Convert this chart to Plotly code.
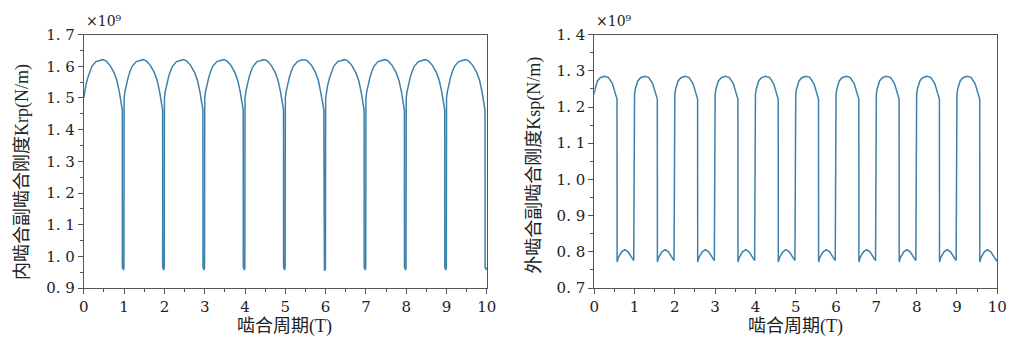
import numpy as np
import plotly.graph_objects as go

# ---- data (one mesh period, repeated for 10 periods) ----
n_periods = 10

# inner mesh stiffness Krp (x1e9 N/m): phase within a period and value
krp_phase = [0.00, 0.02, 0.05, 0.10, 0.15, 0.20, 0.30, 0.40, 0.47, 0.55, 0.65,
             0.75, 0.82, 0.88, 0.92, 0.955, 0.957, 0.97, 0.985, 0.995]
krp_value = [1.500, 1.520, 1.540, 1.565, 1.585, 1.600, 1.615, 1.620, 1.621, 1.617, 1.603,
             1.580, 1.555, 1.520, 1.490, 1.462, 0.965, 0.957, 0.957, 0.965]
krp_end_value = 0.960

# outer mesh stiffness Ksp (x1e9 N/m)
ksp_phase = [0.00, 0.02, 0.08, 0.15, 0.25, 0.35, 0.45, 0.50, 0.565, 0.567,
             0.60, 0.68, 0.76, 0.84, 0.92, 0.98]
ksp_value = [1.235, 1.250, 1.272, 1.281, 1.285, 1.282, 1.265, 1.245, 1.222, 0.772,
             0.785, 0.800, 0.806, 0.800, 0.785, 0.776]
ksp_end_value = 0.778

x_ticks = [0, 1, 2, 3, 4, 5, 6, 7, 8, 9, 10]
y1_ticks = [0.9, 1.0, 1.1, 1.2, 1.3, 1.4, 1.5, 1.6, 1.7]
y2_ticks = [0.7, 0.8, 0.9, 1.0, 1.1, 1.2, 1.3, 1.4]


def tile(phase, value, end_value):
    xs, ys = [], []
    for k in range(n_periods):
        xs.extend([k + p for p in phase])
        ys.extend(value)
    xs.append(n_periods)
    ys.append(end_value)
    return xs, ys


x1, y1 = tile(krp_phase, krp_value, krp_end_value)
x2, y2 = tile(ksp_phase, ksp_value, ksp_end_value)

W, H = 1024, 354
LINE = "#3d82ab"
AX = "#555555"
TICKFONT = dict(family="DejaVu Serif", size=15, color="#222222")
TITLEFONT = dict(family="Liberation Serif, Noto Sans CJK SC", size=18, color="#222222")


def fmt(v):
    s = f"{v:.1f}"
    return s.replace(".", ". ")


fig = go.Figure()
fig.add_trace(go.Scatter(x=x1, y=y1, mode="lines", line=dict(color=LINE, width=1.5),
                         xaxis="x", yaxis="y", showlegend=False))
fig.add_trace(go.Scatter(x=x2, y=y2, mode="lines", line=dict(color=LINE, width=1.5),
                         xaxis="x2", yaxis="y2", showlegend=False))

y_dom = [1 - 294 / H, 1 - 27 / H]
xd1 = [80 / W, 489 / W]
xd2 = [598 / W, 1007 / W]

common_x = dict(range=[0, 10], tickvals=x_ticks, ticktext=[str(t) for t in x_ticks],
                showline=True, linecolor=AX, linewidth=1, mirror=True,
                ticks="outside", ticklen=5, tickcolor=AX, tickwidth=1,
                minor=dict(ticks="outside", ticklen=3, dtick=0.5, tickcolor=AX),
                showgrid=False, zeroline=False, tickfont=TICKFONT)
common_y = dict(showline=True, linecolor=AX, linewidth=1, mirror=True,
                ticks="outside", ticklen=5, tickcolor=AX, tickwidth=1,
                minor=dict(ticks="outside", ticklen=3, dtick=0.05, tickcolor=AX),
                showgrid=False, zeroline=False, tickfont=TICKFONT)

fig.update_layout(
    width=W, height=H,
    margin=dict(l=0, r=0, t=0, b=0),
    paper_bgcolor="white", plot_bgcolor="white",
    xaxis=dict(domain=xd1, anchor="y", **common_x),
    yaxis=dict(domain=y_dom, anchor="x", range=[0.9, 1.7], tickvals=y1_ticks,
               ticktext=[fmt(v) for v in y1_ticks], **common_y),
    xaxis2=dict(domain=xd2, anchor="y2", **common_x),
    yaxis2=dict(domain=y_dom, anchor="x2", range=[0.7, 1.4], tickvals=y2_ticks,
                ticktext=[fmt(v) for v in y2_ticks], **common_y),
)

ann = [
    dict(text="×10⁹", x=80 / W, y=1 - 13 / H, xanchor="left", yanchor="middle",
         font=dict(family="DejaVu Serif", size=14, color="#222222")),
    dict(text="×10⁹", x=598 / W, y=1 - 13 / H, xanchor="left", yanchor="middle",
         font=dict(family="DejaVu Serif", size=14, color="#222222")),
    dict(text="啮合周期(T)", x=284 / W, y=1 - 334 / H, xanchor="center", yanchor="middle",
         font=TITLEFONT),
    dict(text="啮合周期(T)", x=802 / W, y=1 - 334 / H, xanchor="center", yanchor="middle",
         font=TITLEFONT),
    dict(text="内啮合副啮合刚度Krp(N/m)", x=18 / W, y=1 - 172 / H, textangle=-90,
         xanchor="center", yanchor="middle", font=TITLEFONT),
    dict(text="外啮合副啮合刚度Ksp(N/m)", x=537 / W, y=1 - 165 / H, textangle=-90,
         xanchor="center", yanchor="middle", font=TITLEFONT),
]
for a in ann:
    a.update(xref="paper", yref="paper", showarrow=False)
fig.update_layout(annotations=ann)

fig.write_html("out.html")
